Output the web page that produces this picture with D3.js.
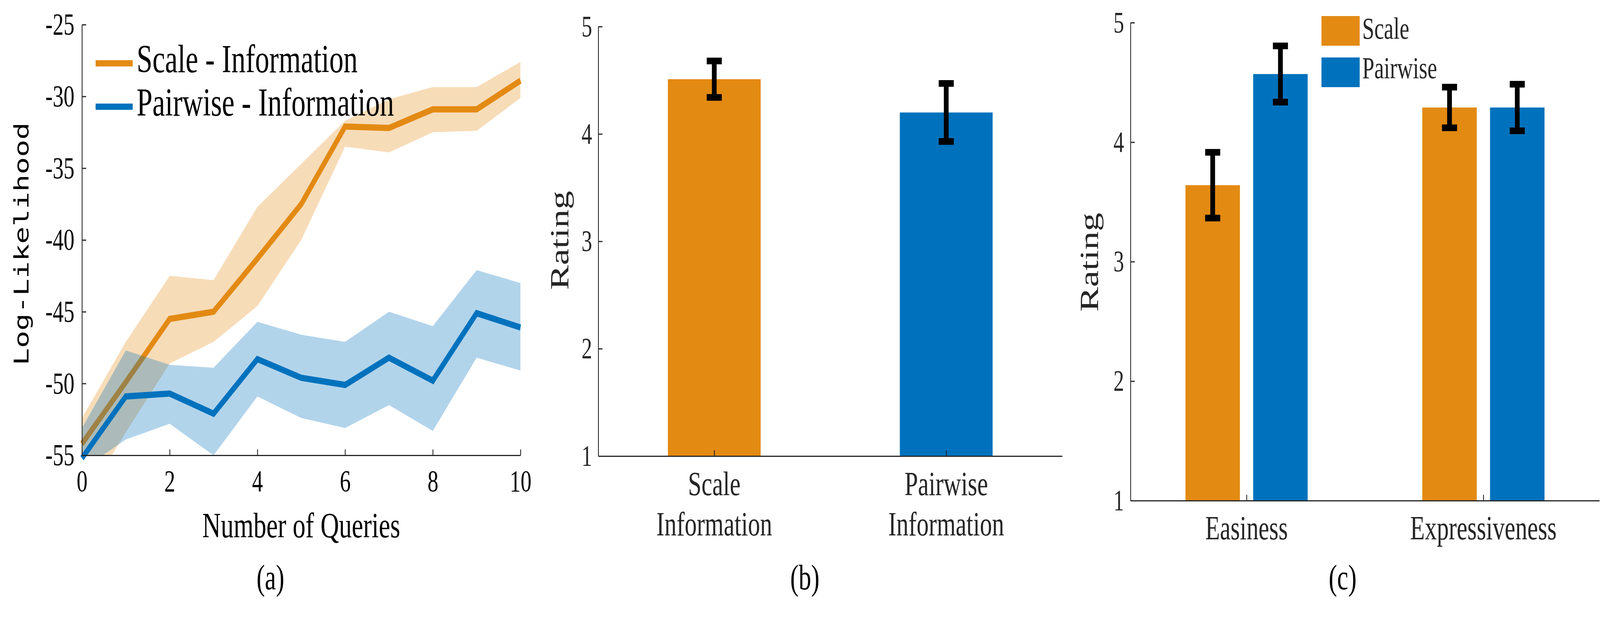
<!DOCTYPE html>
<html>
<head>
<meta charset="utf-8">
<script src="https://cdn.jsdelivr.net/npm/d3@7"></script>
<style>
  html, body { margin: 0; padding: 0; background: #fff; overflow: hidden; }
  svg { display: block; width: 100vw; height: 100vh; }
</style>
</head>
<body>
<div id="chart"></div>
<script>

// (a) log-likelihood per number of queries
let queries = [0, 1, 2, 3, 4, 5, 6, 7, 8, 9, 10];
let scaleMean  = [-54.2, -49.9, -45.5, -45.0, -41.3, -37.5, -32.1, -32.2, -30.9, -30.9, -28.9];
let scaleUpper = [-52.4, -47.1, -42.5, -42.8, -37.7, -34.7, -31.7, -30.2, -29.35, -29.35, -27.6];
let scaleLower = [-58.4, -53.4, -48.6, -47.1, -44.6, -40.0, -33.5, -33.9, -32.5, -32.4, -30.1];
let pairMean   = [-55.2, -50.9, -50.7, -52.1, -48.3, -49.6, -50.1, -48.2, -49.8, -45.1, -46.1];
let pairUpper  = [-53.1, -47.7, -48.7, -48.9, -45.7, -46.6, -47.1, -45.0, -46.0, -42.1, -43.0];
let pairLower  = [-56.0, -53.9, -52.8, -55.0, -50.9, -52.4, -53.1, -51.5, -53.3, -48.2, -49.1];
let seriesNames = ["Scale - Information", "Pairwise - Information"];
let xTicksA = [0, 2, 4, 6, 8, 10];
let yTicksA = [-55, -50, -45, -40, -35, -30, -25];

// (b) rating per information type
let infoCategories = [["Scale", "Information"], ["Pairwise", "Information"]];
let infoMeans = [4.51, 4.2];
let infoErrors = [0.17, 0.27];

// (c) rating per question
let questionCategories = ["Easiness", "Expressiveness"];
let groupNames = ["Scale", "Pairwise"];
let scaleRatings = [3.64, 4.29];
let scaleErrors = [0.275, 0.17];
let pairRatings = [4.57, 4.29];
let pairErrors = [0.235, 0.195];
let ratingTicks = [1, 2, 3, 4, 5];

let orange = "#E38A13",
    blue = "#0072BD",
    axisColor = "#262626",
    serif = "'Liberation Serif', 'Times New Roman', serif";

function draw() {

    let width = 5739, height = 1589;

    // drawn in the reference's pixel space and fitted to the window
    let svg = d3.select("#chart")
        .append("svg")
        .attr("viewBox", `0 0 ${width} ${height}`)
        .attr("preserveAspectRatio", "none");

    svg.append("rect")
        .attr("width", width)
        .attr("height", height)
        .attr("fill", "#fff");

    // ---------- Panel (a) ----------
    let xA = d3.scaleLinear().domain([0, 10]).range([294, 1867]),
        yA = d3.scaleLinear().domain([-55, -25]).range([1165, 63]);

    svg.append("clipPath")
        .attr("id", "clipA")
        .append("rect")
        .attr("x", xA(0))
        .attr("y", yA(-25))
        .attr("width", xA(10) - xA(0))
        .attr("height", yA(-55) - yA(-25));

    let area = d3.area()
        .x(i => xA(queries[i]));

    let line = d3.line()
        .x(i => xA(queries[i]));

    let idx = d3.range(queries.length);

    let series = [
        { mean: scaleMean, upper: scaleUpper, lower: scaleLower, color: orange },
        { mean: pairMean, upper: pairUpper, lower: pairLower, color: blue }
    ];

    // band then line, series by series (blue band covers the orange line)
    for (let s of series) {

        svg.append("path")
            .datum(idx)
            .attr("clip-path", "url(#clipA)")
            .attr("fill", s.color)
            .attr("fill-opacity", 0.3)
            .attr("d", area.y0(i => yA(s.lower[i])).y1(i => yA(s.upper[i])));

        svg.append("path")
            .datum(idx)
            .attr("fill", "none")
            .attr("stroke", s.color)
            .attr("stroke-width", 16)
            .attr("d", line.y(i => yA(s.mean[i])));
    }

    let axA = svg.append("g")
        .attr("transform", `translate(0,${yA(-55)})`)
        .call(d3.axisBottom(xA).tickValues(xTicksA).tickSize(-15).tickSizeOuter(0).tickPadding(37));

    let ayA = svg.append("g")
        .attr("transform", `translate(${xA(0)},0)`)
        .call(d3.axisLeft(yA).tickValues(yTicksA).tickFormat(d => String(d))
            .tickSize(-15).tickSizeOuter(0).tickPadding(27));

    for (let ax of [axA, ayA]) {
        ax.attr("font-family", serif).attr("font-size", 78);
        ax.selectAll("path, line").attr("stroke", axisColor).attr("stroke-width", 3);
        ax.selectAll("text").attr("fill", "#000");
    }

    svg.append("text")
        .attr("transform", "translate(102,624) rotate(-90)")
        .attr("text-anchor", "middle")
        .attr("font-family", "'DejaVu Sans Mono', monospace")
        .attr("font-size", 72)
        .attr("textLength", 622)
        .attr("lengthAdjust", "spacingAndGlyphs")
        .text("Log-Likelihood");

    svg.append("text")
        .attr("x", (xA(0) + xA(10)) / 2)
        .attr("y", 1375)
        .attr("text-anchor", "middle")
        .attr("font-family", serif)
        .attr("font-size", 92)
        .text("Number of Queries");

    // legend (a)
    let legendA = svg.append("g");
    seriesNames.forEach((name, i) => {
        let y = 162 + i * 111;
        legendA.append("line")
            .attr("x1", 343).attr("x2", 476)
            .attr("y1", y).attr("y2", y)
            .attr("stroke", series[i].color)
            .attr("stroke-width", 16);
        legendA.append("text")
            .attr("x", 490)
            .attr("y", y + 23)
            .attr("font-family", serif)
            .attr("font-size", 102)
            .text(name);
    });

    // ---------- Panel (b) ----------
    let xB = d3.scaleLinear().domain([0.5, 2.5]).range([2146, 3810]),
        yB = d3.scaleLinear().domain([1, 5]).range([1167, 68]);

    let barW = 0.4;

    svg.selectAll(".barB")
        .data(infoMeans)
        .enter()
        .append("rect")
        .attr("class", "barB")
        .attr("x", (d, i) => xB(i + 1 - barW / 2))
        .attr("width", xB(1 + barW / 2) - xB(1 - barW / 2))
        .attr("y", d => yB(d))
        .attr("height", d => yB(1) - yB(d))
        .attr("fill", (d, i) => i == 0 ? orange : blue);

    drawErrors(svg, infoMeans.map((d, i) => ({ x: xB(i + 1), hi: yB(d + infoErrors[i]), lo: yB(d - infoErrors[i]) })));

    ratingAxes(svg, xB, yB, [1, 2], 2124);

    infoCategories.forEach((lines, i) => {
        let t = svg.append("text")
            .attr("text-anchor", "middle")
            .attr("font-family", serif)
            .attr("font-size", 87)
            .attr("fill", axisColor);
        lines.forEach((l, j) => {
            t.append("tspan")
                .attr("x", xB(i + 1))
                .attr("y", 1267 + j * 103)
                .text(l);
        });
    });

    yLabel(svg, "Rating", 2038, 615);

    // ---------- Panel (c) ----------
    let xC = d3.scaleLinear().domain([0.51, 2.49]).range([4055, 5737]),
        yC = d3.scaleLinear().domain([1, 5]).range([1281, 58]);

    let offset = 0.143, barWC = 0.23;

    let groups = [
        { values: scaleRatings, errors: scaleErrors, color: orange, shift: -offset },
        { values: pairRatings, errors: pairErrors, color: blue, shift: offset }
    ];

    for (let g of groups) {

        svg.selectAll(null)
            .data(g.values)
            .enter()
            .append("rect")
            .attr("x", (d, i) => xC(i + 1 + g.shift - barWC / 2))
            .attr("width", xC(1 + barWC / 2) - xC(1 - barWC / 2))
            .attr("y", d => yC(d))
            .attr("height", d => yC(1) - yC(d))
            .attr("fill", g.color);

        drawErrors(svg, g.values.map((d, i) => ({
            x: xC(i + 1 + g.shift), hi: yC(d + g.errors[i]), lo: yC(d - g.errors[i])
        })));
    }

    ratingAxes(svg, xC, yC, [1, 2], 4032);

    questionCategories.forEach((name, i) => {
        svg.append("text")
            .attr("x", xC(i + 1))
            .attr("y", 1380)
            .attr("text-anchor", "middle")
            .attr("font-family", serif)
            .attr("font-size", 86)
            .attr("fill", axisColor)
            .text(name);
    });

    yLabel(svg, "Rating", 3938, 671);

    // legend (c)
    groupNames.forEach((name, i) => {
        svg.append("rect")
            .attr("x", 4740)
            .attr("y", 41 + i * 106)
            .attr("width", 137)
            .attr("height", 76)
            .attr("fill", groups[i].color);
        svg.append("text")
            .attr("x", 4886)
            .attr("y", 99 + i * 101)
            .attr("font-family", serif)
            .attr("font-size", 78)
            .attr("fill", axisColor)
            .text(name);
    });

    // ---------- panel captions ----------
    [["(a)", 970], ["(b)", 2887], ["(c)", 4816]].forEach(([t, x]) => {
        svg.append("text")
            .attr("x", x)
            .attr("y", 1508)
            .attr("text-anchor", "middle")
            .attr("font-family", serif)
            .attr("font-size", 90)
            .text(t);
    });
}

// Black error bars with flat caps
function drawErrors(svg, bars) {
    let g = svg.append("g")
        .attr("stroke", "#000")
        .attr("stroke-width", 17);

    for (let b of bars) {
        g.append("line").attr("x1", b.x).attr("x2", b.x).attr("y1", b.hi).attr("y2", b.lo);
        g.append("line").attr("x1", b.x - 27).attr("x2", b.x + 27).attr("y1", b.hi).attr("y2", b.hi);
        g.append("line").attr("x1", b.x - 27).attr("x2", b.x + 27).attr("y1", b.lo).attr("y2", b.lo);
    }
}

// MATLAB-like axes: inward ticks, left and bottom lines only
function ratingAxes(svg, x, y, xTicks, labelRight) {
    let x0 = x.range()[0];

    let ax = svg.append("g")
        .attr("transform", `translate(0,${y(1)})`)
        .call(d3.axisBottom(x).tickValues(xTicks).tickFormat("").tickSize(-15).tickSizeOuter(0));

    let ay = svg.append("g")
        .attr("transform", `translate(${x0},0)`)
        .call(d3.axisLeft(y).tickValues(ratingTicks).tickFormat(d3.format("d"))
            .tickSize(-15).tickSizeOuter(0).tickPadding(x0 - labelRight));

    for (let a of [ax, ay]) {
        a.attr("font-family", serif).attr("font-size", 76);
        a.selectAll("path, line").attr("stroke", axisColor).attr("stroke-width", 3);
        a.selectAll("text").attr("fill", axisColor);
    }
}

function yLabel(svg, text, x, y) {
    svg.append("text")
        .attr("transform", `translate(${x},${y}) rotate(-90)`)
        .attr("text-anchor", "middle")
        .attr("font-family", serif)
        .attr("font-size", 95)
        .attr("fill", axisColor)
        .text(text);
}

draw();

</script>
</body>
</html>
